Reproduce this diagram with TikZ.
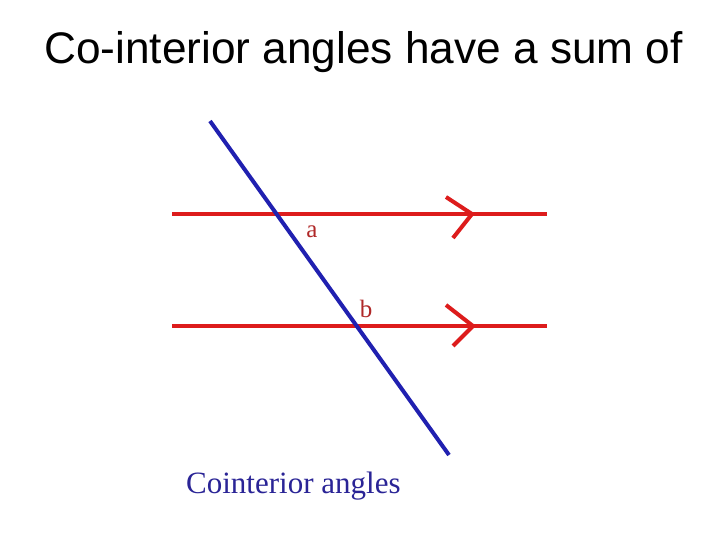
\documentclass[tikz,border=0pt]{standalone}
\usepackage{fontspec}
\setmainfont{Liberation Serif}
\newfontfamily\titlefont{Liberation Sans}
\definecolor{lred}{HTML}{DD1C1C}
\definecolor{lblue}{HTML}{2020B0}
\definecolor{lbl}{HTML}{B02828}
\definecolor{cap}{HTML}{2A2496}
\begin{document}
\begin{tikzpicture}[x=1pt,y=-1pt,
  redline/.style={draw=lred,line width=4pt},
  blueline/.style={draw=lblue,line width=4pt},
  angle/.style={text=lbl,font=\fontsize{25}{27}\selectfont,inner sep=0pt}]
\useasboundingbox[fill=white] (0,0) rectangle (720,540);
\node[anchor=base west,inner sep=0pt,font=\titlefont\fontsize{44.2}{48}\selectfont] (title) at (44,64) {Co-interior angles have a sum of};
% parallel lines
\coordinate (l1a) at (172,214);
\coordinate (l1b) at (547,214);
\coordinate (l2a) at (172,326);
\coordinate (l2b) at (547,326);
\draw[redline] (l1a) -- (l1b);
\draw[redline] (l2a) -- (l2b);
% arrow marks
\coordinate (t1) at (472,214);
\coordinate (t2) at (473,326);
\draw[redline] (446,197) -- (t1) -- (453,238);
\draw[redline] (446,305) -- (t2) -- (453,346);
% transversal
\coordinate (ta) at (210,121);
\coordinate (tb) at (449,455);
\draw[blueline] (ta) -- (tb);
\node[angle,anchor=base] (a) at (312,237) {a};
\node[angle,anchor=base] (b) at (366,317) {b};
\node[anchor=base west,inner sep=0pt,text=cap,font=\fontsize{31}{34}\selectfont] (caption) at (186,493) {Cointerior angles};
\end{tikzpicture}
\end{document}
